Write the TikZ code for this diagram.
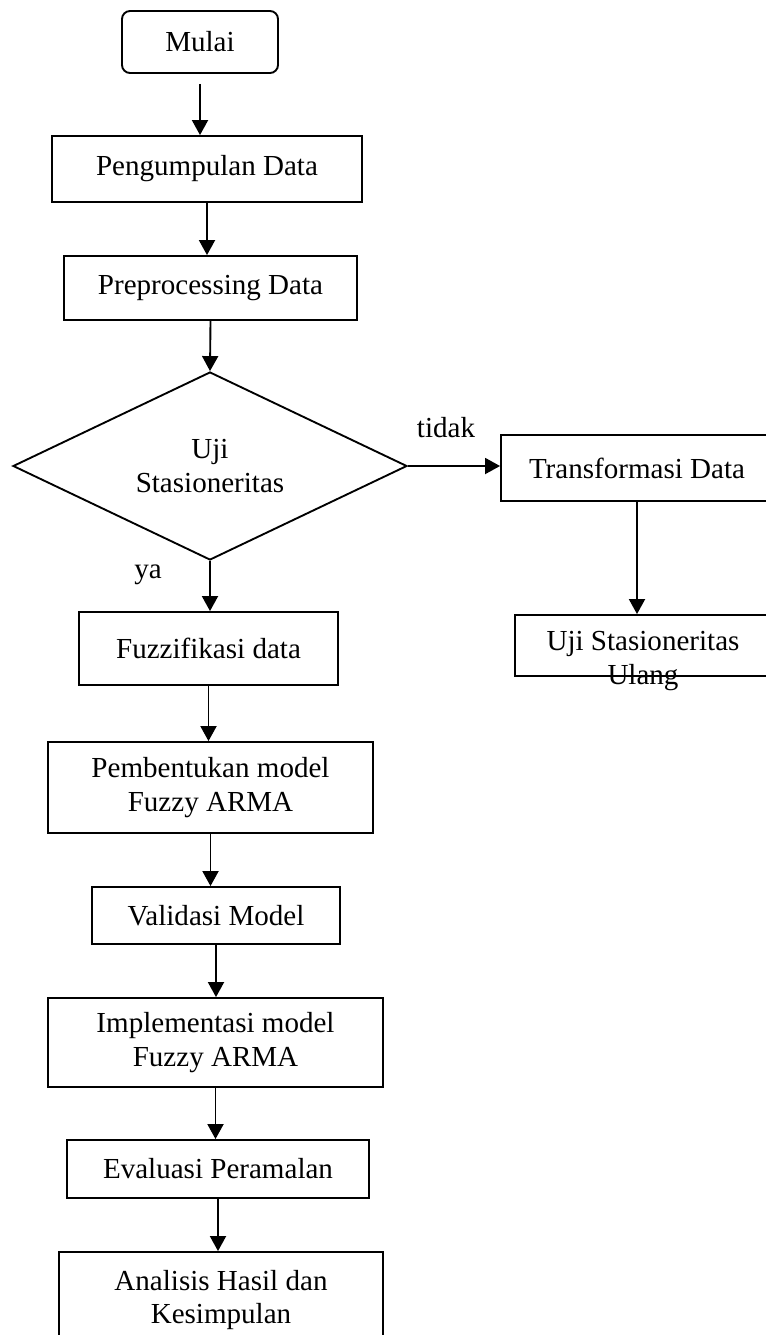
\documentclass[tikz,border=0pt]{standalone}
\usepackage{fontspec}
\setmainfont{Liberation Serif}
\usetikzlibrary{shapes.geometric,arrows.meta}

\begin{document}
\begin{tikzpicture}[x=0.03cm, y=-0.03cm, line width=1.6pt,
    every node/.style={font=\fontsize{24.8}{29}\selectfont, inner sep=0pt, align=center},
    box/.style={draw, rectangle},
    startbox/.style={draw, rectangle, rounded corners=0.24cm},
    decision/.style={draw, diamond, aspect=2.1},
    arr/.style={-{Triangle[length=0.45cm,width=0.48cm]}}]
  \useasboundingbox (0,0) rectangle (766,1335);
  \clip (0,0) rectangle (766,1335);
  % main column
  \node[startbox, minimum width=4.68cm, minimum height=1.86cm] (mulai) at (200,42) {Mulai};
  \node[box, minimum width=9.3cm, minimum height=1.98cm] (kumpul) at (207,169) {Pengumpulan Data};
  \node[box, minimum width=8.79cm, minimum height=1.92cm] (prepro) at (210.5,288) {Preprocessing Data};
  \node[decision, minimum width=11.82cm, minimum height=5.64cm] (uji) at (210,466) {Uji\\Stasioneritas};
  \node[box, minimum width=7.77cm, minimum height=2.19cm] (fuzz) at (208.5,648.5) {Fuzzifikasi data};
  \node[box, minimum width=9.75cm, minimum height=2.73cm] (bentuk) at (210.5,787.5) {Pembentukan model\\Fuzzy ARMA};
  \node[box, minimum width=7.44cm, minimum height=1.71cm] (valid) at (216,915.5) {Validasi Model};
  \node[box, minimum width=10.05cm, minimum height=2.67cm] (impl) at (215.5,1042.5) {Implementasi model\\Fuzzy ARMA};
  \node[box, minimum width=9.06cm, minimum height=1.74cm] (eval) at (218,1169) {Evaluasi Peramalan};
  \node[box, minimum width=9.72cm, minimum height=2.88cm] (hasil) at (221,1300) {Analisis Hasil dan\\Kesimpulan};
  % right branch
  \node[box, minimum width=8.16cm, minimum height=1.98cm] (transf) at (637,468) {Transformasi Data};
  \node[box, minimum width=7.68cm, minimum height=1.83cm] (ulangbox) at (643,645.5) {};
  \node (ulang) at (643,661) {Uji Stasioneritas\\Ulang};
  \node (ya) at (148,575) {ya};
  \node (tidak) at (446,428) {tidak};
  % arrows
  \draw[arr] ([yshift=-0.3cm]mulai.south) -- (mulai.south |- kumpul.north);
  \draw[arr] (kumpul.south) -- (kumpul.south |- prepro.north);
  \draw[arr] (prepro.south) -- (uji.north);
  \draw[arr] (uji.south) -- (uji.south |- fuzz.north);
  \draw[arr] (fuzz.south) -- (fuzz.south |- bentuk.north);
  \draw[arr] (bentuk.south) -- (bentuk.south |- valid.north);
  \draw[arr] (valid.south) -- (valid.south |- impl.north);
  \draw[arr] (impl.south) -- (impl.south |- eval.north);
  \draw[arr] (eval.south) -- (eval.south |- hasil.north);
  \draw[arr] (uji.east) -- (uji.east -| transf.west);
  \draw[arr] (transf.south) -- (transf.south |- ulangbox.north);
\end{tikzpicture}
\end{document}
